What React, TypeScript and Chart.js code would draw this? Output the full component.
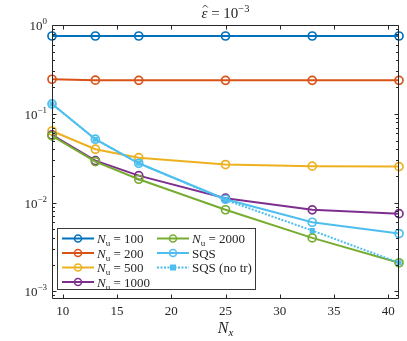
import React, { useEffect, useRef } from 'react';
import { Chart, registerables } from 'chart.js';
Chart.register(...registerables);

const xValues = [9, 13, 17, 25, 33, 41];
const nu100 = [0.752, 0.752, 0.752, 0.752, 0.752, 0.752];
const nu200 = [0.245, 0.239, 0.238, 0.238, 0.238, 0.238];
const nu500 = [0.064, 0.0399, 0.032, 0.0268, 0.0257, 0.0254];
const nu1000 = [0.0578, 0.0297, 0.0201, 0.0112, 0.00828, 0.0075];
const nu2000 = [0.0565, 0.0289, 0.0183, 0.0083, 0.0040, 0.0021];
const sqs = [0.129, 0.0517, 0.0277, 0.0109, 0.0060, 0.00448];
const sqsNoTr = [0.129, 0.0517, 0.0277, 0.0107, 0.00484, 0.0021];
const xTicks = [10, 15, 20, 25, 30, 35, 40];
const yDecades = [0, -1, -2, -3];
const nuLabels = ['100', '200', '500', '1000', '2000'];

const COLORS = ['#0072BD', '#D95319', '#EDB120', '#7E2F8E', '#77AC30', '#4DBEEE', '#4DBEEE'];
const AX = '#262626';
const SERIF = '"Liberation Serif", "DejaVu Serif", serif';

type Part = { text: string; font: string; dy?: number };

function drawParts(ctx: CanvasRenderingContext2D, parts: Part[], x: number, y: number, align: 'left' | 'center' | 'right') {
  let total = 0;
  const widths = parts.map((p) => {
    ctx.font = p.font;
    const w = ctx.measureText(p.text).width;
    total += w;
    return w;
  });
  let cx = align === 'left' ? x : align === 'center' ? x - total / 2 : x - total;
  const starts: number[] = [];
  ctx.textAlign = 'left';
  ctx.textBaseline = 'alphabetic';
  parts.forEach((p, i) => {
    ctx.font = p.font;
    starts.push(cx);
    ctx.fillText(p.text, cx, y + (p.dy || 0));
    cx += widths[i];
  });
  return { starts, widths };
}

const series = [
  { data: nu100, label: 'nu', idx: 0 },
  { data: nu200, label: 'nu', idx: 1 },
  { data: nu500, label: 'nu', idx: 2 },
  { data: nu1000, label: 'nu', idx: 3 },
  { data: nu2000, label: 'nu', idx: 4 },
  { data: sqs, label: 'SQS', idx: 5 },
  { data: sqsNoTr, label: 'SQS (no tr)', idx: 6 },
];

const decorPlugin = {
  id: 'decor',
  afterDraw(chart: any) {
    const ctx: CanvasRenderingContext2D = chart.ctx;
    const a = chart.chartArea;
    const xs = chart.scales.x;
    const ys = chart.scales.y;
    ctx.save();
    ctx.strokeStyle = AX;
    ctx.fillStyle = AX;
    ctx.lineWidth = 1;
    const L = Math.round(a.left) + 0.5;
    const R = Math.round(a.right) - 0.5;
    const T = Math.round(a.top) + 0.5;
    const B = Math.round(a.bottom) - 0.5;
    ctx.beginPath();
    ctx.rect(L, T, R - L, B - T);
    ctx.stroke();
    // x ticks
    ctx.beginPath();
    xTicks.forEach((t) => {
      const px = Math.round(xs.getPixelForValue(t)) + 0.5;
      ctx.moveTo(px, B);
      ctx.lineTo(px, B - 4);
      ctx.moveTo(px, T);
      ctx.lineTo(px, T + 4);
    });
    // y ticks
    for (let d = -4; d <= 0; d++) {
      for (let m = 1; m <= 9; m++) {
        const v = m * Math.pow(10, d);
        if (v < ys.min - 1e-12 || v > ys.max + 1e-12) continue;
        const py = Math.round(ys.getPixelForValue(v)) + 0.5;
        const len = m === 1 ? 4 : 2.5;
        ctx.moveTo(L, py);
        ctx.lineTo(L + len, py);
        ctx.moveTo(R, py);
        ctx.lineTo(R - len, py);
      }
    }
    ctx.stroke();
    // x tick labels
    ctx.fillStyle = AX;
    xTicks.forEach((t) => {
      const px = xs.getPixelForValue(t);
      drawParts(ctx, [{ text: String(t), font: `13px ${SERIF}` }], px, a.bottom + 16, 'center');
    });
    // y tick labels
    yDecades.forEach((d) => {
      const py = ys.getPixelForValue(Math.pow(10, d));
      const sup = d === 0 ? '0' : '\u2212' + String(-d);
      drawParts(
        ctx,
        [
          { text: '10', font: `13px ${SERIF}` },
          { text: sup, font: `9px ${SERIF}`, dy: -6 },
        ],
        a.left - 5,
        py + 5,
        'right'
      );
    });
    // title
    const tcx = (a.left + a.right) / 2;
    const tr = drawParts(
      ctx,
      [
        { text: '\u03b5', font: `italic 15px ${SERIF}` },
        { text: ' = 10', font: `15px ${SERIF}` },
        { text: '\u22123', font: `10.5px ${SERIF}`, dy: -6 },
      ],
      tcx,
      18,
      'center'
    );
    // hat over epsilon
    const ex = tr.starts[0] + tr.widths[0] / 2 + 0.8;
    ctx.beginPath();
    ctx.lineWidth = 0.9;
    ctx.moveTo(ex - 2.5, 7.5);
    ctx.lineTo(ex, 5);
    ctx.lineTo(ex + 2.5, 7.5);
    ctx.stroke();
    // x axis label
    drawParts(
      ctx,
      [
        { text: 'N', font: `italic 16px ${SERIF}` },
        { text: 'x', font: `italic 11px ${SERIF}`, dy: 3 },
      ],
      tcx,
      333,
      'center'
    );
    // legend
    const lx = 57.5, ly = 228.5, lw = 198, lh = 61;
    ctx.fillStyle = '#ffffff';
    ctx.fillRect(lx, ly, lw, lh);
    ctx.strokeStyle = '#3a3a3a';
    ctx.lineWidth = 1;
    ctx.strokeRect(lx, ly, lw, lh);
    const rows = [238.5, 253, 267.5, 282];
    series.forEach((s, i) => {
      const col = i < 4 ? 0 : 1;
      const row = i < 4 ? i : i - 4;
      const x0 = col === 0 ? 62 : 157;
      const x1 = x0 + 32;
      const y = rows[row];
      const c = COLORS[s.idx];
      ctx.strokeStyle = c;
      ctx.lineWidth = 2;
      ctx.setLineDash(s.idx === 6 ? [2, 1.5] : []);
      ctx.beginPath();
      ctx.moveTo(x0, y);
      ctx.lineTo(x1, y);
      ctx.stroke();
      ctx.setLineDash([]);
      const mx = (x0 + x1) / 2;
      ctx.lineWidth = 1.5;
      if (s.idx === 6) {
        ctx.fillStyle = c;
        ctx.fillRect(mx - 3, y - 3, 6, 6);
      } else {
        ctx.beginPath();
        ctx.arc(mx, y, 3.5, 0, Math.PI * 2);
        ctx.stroke();
      }
      ctx.fillStyle = AX;
      if (s.idx < 5) {
        drawParts(
          ctx,
          [
            { text: 'N', font: `italic 13px ${SERIF}` },
            { text: 'u', font: `9px ${SERIF}`, dy: 3 },
            { text: ' = ' + nuLabels[s.idx], font: `13px ${SERIF}` },
          ],
          x1 + 3,
          y + 4.5,
          'left'
        );
      } else {
        drawParts(ctx, [{ text: s.label, font: `13px ${SERIF}` }], x1 + 3, y + 4.5, 'left');
      }
    });
    ctx.restore();
  },
};

export default function App() {
  const ref = useRef<HTMLCanvasElement>(null);
  useEffect(() => {
    if (!ref.current) return;
    const datasets = series.map((s, i) => ({
      label: s.label,
      data: xValues.map((x, j) => ({ x, y: s.data[j] })),
      borderColor: COLORS[s.idx],
      backgroundColor: COLORS[s.idx],
      borderWidth: 2,
      borderDash: s.idx === 6 ? [2, 1.5] : [],
      pointStyle: s.idx === 6 ? 'rect' : 'circle',
      pointRadius: s.idx === 6 ? 2.6 : 4,
      pointBorderWidth: s.idx === 6 ? 1.5 : 1.7,
      pointBackgroundColor: s.idx === 6 ? COLORS[s.idx] : 'rgba(0,0,0,0)',
      pointBorderColor: COLORS[s.idx],
      tension: 0,
      clip: false as any,
      order: 10 - i,
    }));
    const chart = new Chart(ref.current, {
      type: 'line',
      data: { datasets },
      options: {
        animation: false,
        responsive: false,
        maintainAspectRatio: false,
        layout: { padding: { left: 52, top: 25, right: 8, bottom: 42 } },
        plugins: { legend: { display: false }, tooltip: { enabled: false }, title: { display: false } },
        scales: {
          x: { type: 'linear', min: 9, max: 41, display: false },
          y: { type: 'logarithmic', min: 8.2e-4, max: 1, display: false },
        },
      },
      plugins: [decorPlugin],
    });
    return () => chart.destroy();
  }, []);
  return (
    <div style={{ position: 'absolute', left: 0, top: 0, width: 407, height: 341, background: '#fff' }}>
      <canvas ref={ref} width={407} height={341} style={{ display: 'block', width: 407, height: 341 }} />
    </div>
  );
}
